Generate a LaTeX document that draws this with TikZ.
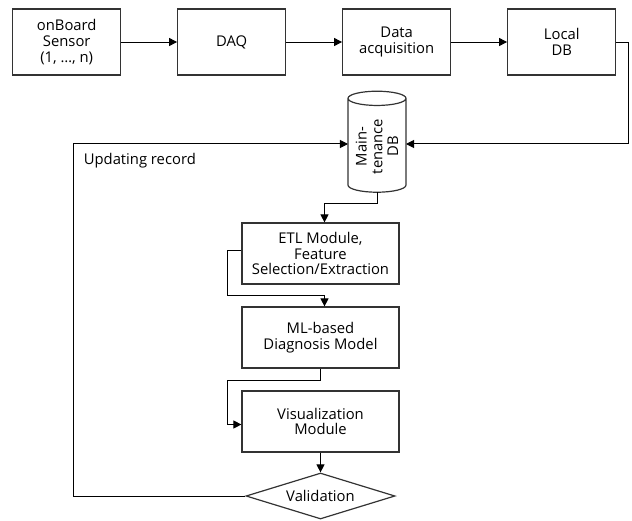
\documentclass[tikz,border=0pt]{standalone}
\usepackage{fontspec}
\setmainfont{Open Sans}
\usetikzlibrary{positioning, shapes.geometric, arrows.meta}

\begin{document}
\begin{tikzpicture}[x=1pt, y=-1pt, node distance=165pt, on grid, >={Triangle[length=8pt, width=8pt]},
    line width=1pt,
    font=\fontsize{14.8}{15.8}\selectfont,
    box/.style={draw=black!80, line width=1.2pt, align=center, inner sep=2pt},
    topbox/.style={box, minimum width=108pt, minimum height=66pt},
    stepbox/.style={box, minimum width=157pt, minimum height=61pt},
    dbstore/.style={cylinder, draw=black!80, line width=1.2pt, align=center, rotate=90,
        minimum width=58pt, minimum height=101pt, aspect=0.32, inner sep=1pt, outer sep=0pt},
    decision/.style={diamond, draw=black!80, line width=1.2pt, minimum width=149pt,
        minimum height=46pt, aspect=3.2, inner sep=0pt}]
    \useasboundingbox (0,0) rectangle (632,520);

    % Top row: acquisition chain
    \node[topbox] (sensor) at (66.7,42) {onBoard\\Sensor\\(1, \dots, n)};
    \node[topbox] (daq) [right=of sensor] {DAQ};
    \node[topbox] (acq) [right=of daq] {Data\\acquisition};
    \node[topbox] (local) [right=of acq] {Local\\DB};

    % Database
    \node[dbstore] (db) at (377,146.5) {Main-\\tenance\\DB};

    % Processing column
    \node[stepbox] (etl) at (320.5,253.5) {ETL Module,\\Feature\\Selection/Extraction};
    \node[stepbox] (ml) [below=84pt of etl] {ML-based\\Diagnosis Model};
    \node[stepbox] (vis) [below=84pt of ml] {Visualization\\Module};
    \node[decision] (valid) [below=74.5pt of vis] {Validation};
    \node[anchor=west] (upd) at (80,161) {Updating record};

    % Connections
    \draw[->] (sensor) -- (daq);
    \draw[->] (daq) -- (acq);
    \draw[->] (acq) -- (local);
    \draw[->] (local.east) -- ++(12,0) |- ([yshift=2.5pt]db.south);
    \draw[->] (valid.west) -- ++(-172,0) |- ([yshift=2.5pt]db.north);
    \draw[->] (db.west) -- ++(0,11) -| ([xshift=4pt]etl.north);
    \draw[->] ([yshift=3pt]etl.west) -- ++(-14,0) |- ([xshift=4pt,yshift=11pt]ml.north) -- ([xshift=4pt]ml.north);
    \draw[->] (ml.south) -- ++(0,12) -| ([xshift=-14pt,yshift=-3pt]vis.west) -- ([yshift=-3pt]vis.west);
    \draw[->] (vis) -- (valid);

\end{tikzpicture}
\end{document}
